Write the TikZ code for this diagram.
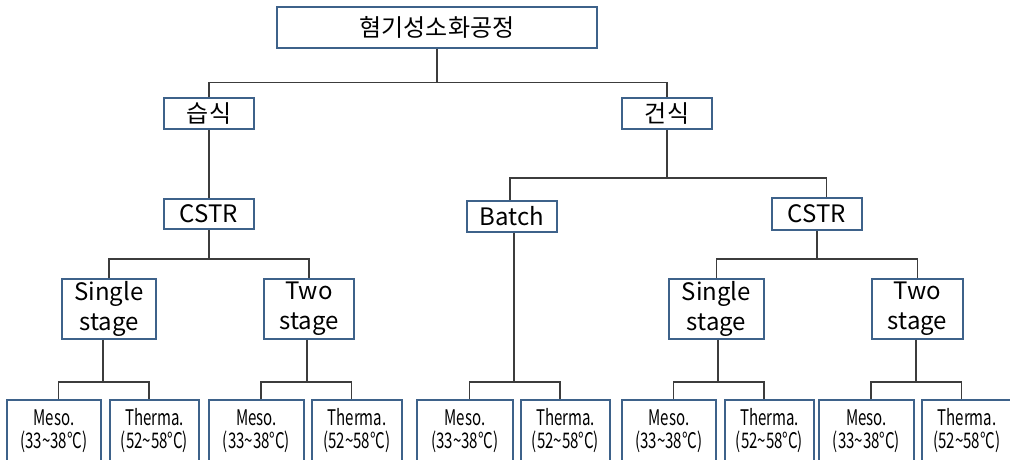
\documentclass[tikz,border=0pt]{standalone}
\usepackage{fontspec}
\usepackage{graphicx}
\setmainfont{Noto Sans CJK KR}

\definecolor{boxedge}{RGB}{62,98,138}
\definecolor{wire}{RGB}{60,60,60}

% condensed setting for the temperature leaves
\newcommand\narrowtext[1]{\scalebox{0.7}[1]{#1}}
\newcommand\mesotext{\narrowtext{Meso.}\\\narrowtext{(33\textasciitilde38°C)}}
\newcommand\thermotext{\narrowtext{Therma.}\\\narrowtext{(52\textasciitilde58°C)}}

\tikzset{
  box/.style={draw=boxedge, line width=1.3pt, fill=white, inner sep=0pt,
              text=black, align=center, font=\fontsize{24}{30}\selectfont},
  leaf/.style={box, minimum height=62pt, font=\fontsize{21.5}{23}\selectfont},
  link/.style={draw=wire, line width=1.8pt},
}

% one temperature pair under a parent: #1 parent, #2 bus point, #3 meso, #4 thermo
\newcommand\leafpair[4]{%
  \draw[link] (#1.south -| #2) -- (#2);
  \draw[link] ([xshift=4.5pt]#3.north) |- (#2) -| ([xshift=-5.5pt]#4.north);}

\begin{document}
\begin{tikzpicture}[x=1pt,y=-1pt]
  \useasboundingbox (0,0) rectangle (1010,459);
  \clip (0,0) rectangle (1010,459);
  \fill[white] (0,0) rectangle (1010,459);

  % upper levels
  \node[box, minimum width=320pt, minimum height=41pt] (root) at (437,27.5) {혐기성소화공정};
  \node[box, minimum width=90pt, minimum height=31pt] (wet) at (209,113.5) {습식};
  \node[box, minimum width=90pt, minimum height=31pt] (dry) at (667,113.5) {건식};
  \node[box, minimum width=90pt, minimum height=30pt] (cstrL) at (209,214) {CSTR};
  \node[box, minimum width=90pt, minimum height=31pt] (batch) at (512,216.5) {Batch};
  \node[box, minimum width=90pt, minimum height=32pt] (cstrR) at (817,214) {CSTR};

  % stage boxes
  \node[box, minimum width=94pt, minimum height=60pt] (sL) at (109,309) {Single\\stage};
  \node[box, minimum width=90pt, minimum height=60pt] (tL) at (309,309) {Two\\stage};
  \node[box, minimum width=95pt, minimum height=60pt] (sR) at (716.5,309) {Single\\stage};
  \node[box, minimum width=91pt, minimum height=60pt] (tR) at (917.5,309) {Two\\stage};

  % temperature leaves
  \node[leaf, minimum width=94pt] (m1) at (54,431) {\mesotext};
  \node[leaf, minimum width=89pt] (t1) at (154.5,431) {\thermotext};
  \node[leaf, minimum width=95pt] (m2) at (256.5,431) {\mesotext};
  \node[leaf, minimum width=90pt] (t2) at (357,431) {\thermotext};
  \node[leaf, minimum width=96pt] (m3) at (465,431) {\mesotext};
  \node[leaf, minimum width=89pt] (t3) at (565.5,431) {\thermotext};
  \node[leaf, minimum width=94pt] (m4) at (669,431) {\mesotext};
  \node[leaf, minimum width=89pt] (t4) at (769.5,431) {\thermotext};
  \node[leaf, minimum width=95pt] (m5) at (866.5,431) {\mesotext};
  \node[leaf, minimum width=90pt] (t5) at (967,431) {\thermotext};

  % bus points
  \coordinate (busTop) at (437,82.5);
  \coordinate (busDry) at (667,178);
  \coordinate (busCL)  at (209,259);
  \coordinate (busCR)  at (817,259);
  \coordinate (bus1) at (103,382);
  \coordinate (bus2) at (307,382);
  \coordinate (bus3) at (514,382);
  \coordinate (bus4) at (718,382);
  \coordinate (bus5) at (916,382);

  % connectors
  \draw[link] (root.south) -- (busTop);
  \draw[link] (wet.north) |- (busTop) -| (dry.north);
  \draw[link] (wet.south) -- (cstrL.north);
  \draw[link] (dry.south) -- (busDry);
  \draw[link] ([xshift=-2pt]batch.north) |- (busDry) -| ([xshift=9.5pt]cstrR.north);
  \draw[link] (cstrL.south) -- (busCL);
  \draw[link] (sL.north) |- (busCL) -| (tL.north);
  \draw[link] (cstrR.south) -- (busCR);
  \draw[link] (sR.north) |- (busCR) -| (tR.north);

  \leafpair{sL}{bus1}{m1}{t1}
  \leafpair{tL}{bus2}{m2}{t2}
  \leafpair{batch}{bus3}{m3}{t3}
  \leafpair{sR}{bus4}{m4}{t4}
  \leafpair{tR}{bus5}{m5}{t5}
\end{tikzpicture}
\end{document}
